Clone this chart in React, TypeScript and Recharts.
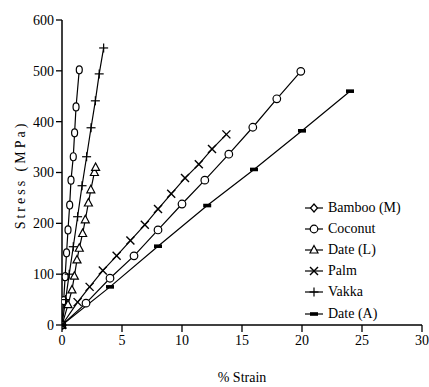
import React from 'react';
import { LineChart, Line, XAxis, YAxis, Label } from 'recharts';

const xTicks = [0, 5, 10, 15, 20, 25, 30];
const yTicks = [0, 100, 200, 300, 400, 500, 600];

const seriesNames = ['Bamboo (M)', 'Coconut', 'Date (L)', 'Palm', 'Vakka', 'Date (A)'];

const bambooStrain = [0, 0.14, 0.26, 0.38, 0.5, 0.64, 0.75, 0.94, 1.05, 1.17, 1.44];
const bambooStress = [0, 48, 95, 142, 187, 236, 285, 331, 378, 429, 502];

const coconutStrain = [0, 2, 4, 6, 8, 10, 11.9, 13.9, 15.9, 17.9, 19.9];
const coconutStress = [0, 43, 92, 136, 187, 238, 285, 336, 389, 445, 499];

const dateLStrain = [0, 0.5, 0.83, 1.03, 1.25, 1.44, 1.72, 1.94, 2.2, 2.4, 2.7, 2.8];
const dateLStress = [0, 40, 69, 96, 128, 151, 180, 207, 240, 266, 300, 310];

const palmStrain = [0, 1.3, 2.3, 3.4, 4.55, 5.7, 6.9, 8.0, 9.1, 10.25, 11.4, 12.5, 13.7];
const palmStress = [0, 45, 75, 107, 136, 166, 197, 228, 258, 289, 316, 346, 375];

const vakkaStrain = [0, 0.3, 0.6, 0.94, 1.3, 1.67, 2.05, 2.42, 2.78, 3.1, 3.47];
const vakkaStress = [0, 50, 100, 154, 213, 274, 331, 388, 441, 494, 545];

const dateAStrain = [0, 4, 8, 12.1, 16, 20, 24];
const dateAStress = [0, 75, 155, 235, 306, 382, 460];

const build = (xs: number[], ys: number[]) => xs.map((x, i) => ({ x, y: ys[i] }));

const seriesData = [
  build(bambooStrain, bambooStress),
  build(coconutStrain, coconutStress),
  build(dateLStrain, dateLStress),
  build(palmStrain, palmStress),
  build(vakkaStrain, vakkaStress),
  build(dateAStrain, dateAStress),
];

const FONT = "'Liberation Serif', serif";

const Marker = ({ kind, cx, cy }: { kind: number; cx: number; cy: number }) => {
  const s = { stroke: '#000', strokeWidth: 1.2, fill: '#fff' };
  switch (kind) {
    case 0:
      return <ellipse cx={cx} cy={cy} rx={3} ry={4} {...s} />;
    case 1:
      return <circle cx={cx} cy={cy} r={3.8} {...s} />;
    case 2:
      return <polygon points={`${cx},${cy - 4.5} ${cx + 4},${cy + 3} ${cx - 4},${cy + 3}`} {...s} />;
    case 3:
      return (
        <g stroke="#000" strokeWidth={1.4}>
          <line x1={cx - 4} y1={cy - 4} x2={cx + 4} y2={cy + 4} />
          <line x1={cx - 4} y1={cy + 4} x2={cx + 4} y2={cy - 4} />
        </g>
      );
    case 4:
      return (
        <g stroke="#000" strokeWidth={1.2}>
          <line x1={cx - 4.5} y1={cy} x2={cx + 4.5} y2={cy} />
          <line x1={cx} y1={cy - 4.5} x2={cx} y2={cy + 4.5} />
        </g>
      );
    default:
      return <rect x={cx - 4} y={cy - 1.8} width={8} height={3.6} fill="#000" />;
  }
};

const LegendDiamond = ({ cx, cy }: { cx: number; cy: number }) => (
  <polygon points={`${cx},${cy - 4} ${cx + 3.5},${cy} ${cx},${cy + 4} ${cx - 3.5},${cy}`} stroke="#000" strokeWidth={1.2} fill="#fff" />
);

const ChartLegend = () => (
  <div style={{ position: 'absolute', left: 304, top: 197, fontFamily: FONT, fontSize: 14, color: '#000' }}>
    {seriesNames.map((n, i) => (
      <div key={n} style={{ display: 'flex', alignItems: 'center', height: 21.2, whiteSpace: 'nowrap' }}>
        <svg width={22} height={14} style={{ marginRight: 2 }}>
          <line x1={1} y1={7} x2={19} y2={7} stroke="#000" strokeWidth={1.2} />
          {i === 0 ? <LegendDiamond cx={10} cy={7} /> : <Marker kind={i} cx={10} cy={7} />}
        </svg>
        <span>{n}</span>
      </div>
    ))}
  </div>
);

export default function App() {
  return (
    <div style={{ position: 'absolute', left: 0, top: 0, width: 429, height: 387, overflow: 'hidden' }}>
      <LineChart width={429} height={387} margin={{ top: 20, right: 7, left: 0, bottom: 0 }}>
        <XAxis
          type="number"
          dataKey="x"
          domain={[0, 30]}
          ticks={xTicks}
          height={62}
          allowDataOverflow
          tickSize={7}
          tickMargin={3}
          axisLine={{ stroke: '#000', strokeWidth: 1.5 }}
          tickLine={{ stroke: '#000', strokeWidth: 1.3 }}
          tick={{ fill: '#000', fontSize: 14, fontFamily: FONT }}
        >
          <Label value="% Strain" position="insideBottom" offset={5} style={{ fill: '#000', fontSize: 14, fontFamily: FONT }} />
        </XAxis>
        <YAxis
          type="number"
          dataKey="y"
          domain={[0, 600]}
          ticks={yTicks}
          width={62}
          tickSize={6}
          tickMargin={2}
          axisLine={{ stroke: '#000', strokeWidth: 1.5 }}
          tickLine={{ stroke: '#000', strokeWidth: 1.3 }}
          tick={{ fill: '#000', fontSize: 14, fontFamily: FONT }}
        >
          <Label
            content={() => (
              <text
                x={20}
                y={175}
                transform="rotate(-90, 20, 175)"
                textAnchor="middle"
                dominantBaseline="central"
                style={{ fill: '#000', fontSize: 14, fontFamily: FONT, letterSpacing: 3 }}
              >
                Stress (MPa)
              </text>
            )}
          />
        </YAxis>
        {seriesData.map((d, i) => (
          <Line
            key={seriesNames[i]}
            name={seriesNames[i]}
            data={d}
            dataKey="y"
            type="linear"
            stroke="#000"
            strokeWidth={1.2}
            isAnimationActive={false}
            dot={(p: any) => <Marker key={`${i}-${p.index}`} kind={i} cx={p.cx} cy={p.cy} />}
            activeDot={false}
          />
        ))}
      </LineChart>
      <ChartLegend />
    </div>
  );
}
